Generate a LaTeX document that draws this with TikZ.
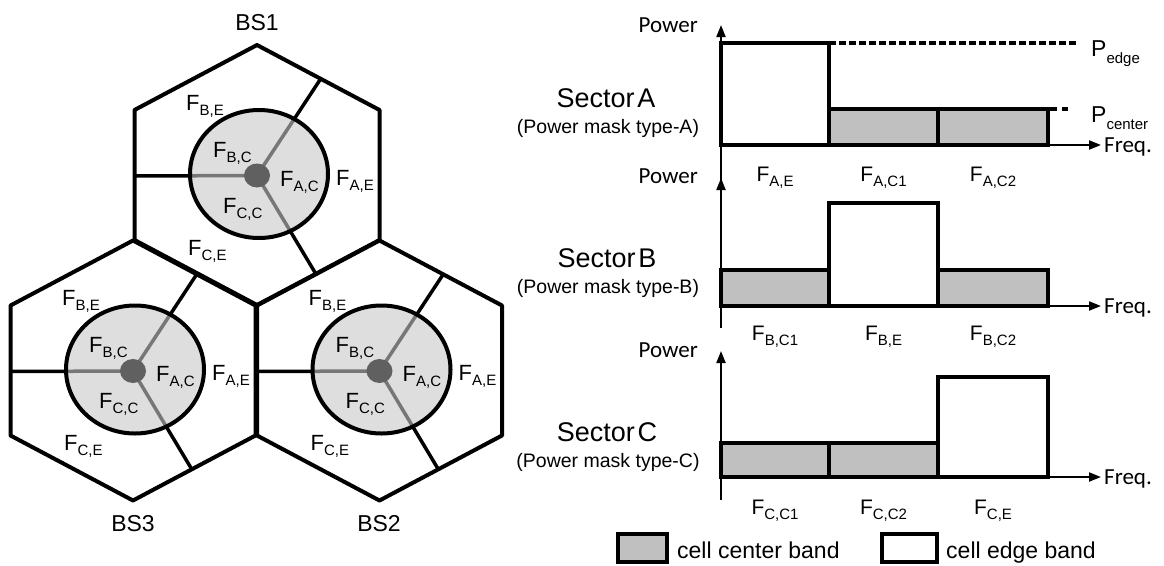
\documentclass[tikz,border=0pt]{standalone}
\usepackage{fontspec}
\setmainfont{Liberation Sans}
\newfontfamily\calfont{Carlito}
\usetikzlibrary{arrows.meta}
\definecolor{cellfill}{HTML}{DEDEDE}
\definecolor{dotgray}{HTML}{606060}
\definecolor{secgray}{HTML}{777777}
\definecolor{bandgray}{HTML}{C0C0C0}
\newcommand\lsub[1]{\raisebox{-5pt}{\fontsize{15}{15}\selectfont #1}}
\newcommand\psub[1]{\raisebox{-7pt}{\fontsize{15}{15}\selectfont #1}}
\begin{document}
\begin{tikzpicture}[x=1pt, y=-1pt,
  hex/.style={line width=4pt, line join=round},
  secline/.style={line width=3.5pt},
  grayline/.style={line width=3.5pt, draw=secgray},
  cellcircle/.style={line width=4pt},
  flab/.style={font=\fontsize{22}{22}\selectfont, inner sep=0pt, anchor=base west},
  bslab/.style={font=\fontsize{23}{23}\selectfont, inner sep=0pt},
  band/.style={draw, line width=4.5pt, line join=miter},
  cband/.style={band, fill=bandgray},
  eband/.style={band, fill=white},
  axis/.style={line width=2pt, -{Triangle[length=12pt,width=9pt]}},
  powlab/.style={font=\calfont\fontsize{23}{23}\selectfont, inner sep=0pt},
  seclab/.style={font=\fontsize{27}{27}\selectfont, inner sep=0pt},
  subt/.style={font=\fontsize{19.5}{19.5}\selectfont, inner sep=0pt},
  rlab/.style={font=\fontsize{21}{21}\selectfont, inner sep=0pt, anchor=base},
  plab/.style={font=\fontsize{23}{23}\selectfont, inner sep=0pt, anchor=base west},
  leglab/.style={font=\fontsize{23}{23}\selectfont, inner sep=0pt, anchor=base west},
  edgedash/.style={line width=3.5pt, dash pattern=on 7pt off 3pt},
  centerdash/.style={line width=3.5pt, dash pattern=on 7pt off 5pt}]
\useasboundingbox (0,0) rectangle (1164,565);

% ---------------- cells ----------------
\foreach \n/\cx/\cy in {1/257/175, 3/133/370.5, 2/379.5/370.5}{
  \coordinate (d\n) at (\cx,\cy+0.5);
  \coordinate (l\n) at (\cx-122.5,\cy+1);
  \coordinate (u\n) at (\cx+63.7,\cy-96.2);
  \coordinate (w\n) at (\cx+58.8,\cy+98.8);
  \coordinate (e\n) at (\cx+2,\cy-1);
  \draw[secline] (d\n) -- (l\n) (d\n) -- (u\n) (d\n) -- (w\n);
  \fill[cellfill] (e\n) ellipse [x radius=69pt, y radius=64pt];
  \begin{scope}
    \clip (e\n) ellipse [x radius=69pt, y radius=64pt];
    \draw[grayline] (d\n) -- (l\n) (d\n) -- (u\n) (d\n) -- (w\n);
  \end{scope}
  \draw[cellcircle] (e\n) ellipse [x radius=69pt, y radius=64pt];
  \fill[dotgray] (d\n) ellipse [x radius=13pt, y radius=12pt];
  \node[flab] (fbe\n) at (\cx-71,\cy-65) {F\lsub{B,E}};
  \node[flab] (fbc\n) at (\cx-44,\cy-18) {F\lsub{B,C}};
  \node[flab] (fac\n) at (\cx+23,\cy+11) {F\lsub{A,C}};
  \node[flab] (fae\n) at (\cx+79,\cy+10) {F\lsub{A,E}};
  \node[flab] (fcc\n) at (\cx-34,\cy+38) {F\lsub{C,C}};
  \node[flab] (fce\n) at (\cx-69,\cy+80) {F\lsub{C,E}};
}
\foreach \cx/\cy in {257/175, 133/370.5, 379.5/370.5}{
  \draw[hex] (\cx,\cy-130) -- (\cx+122.5,\cy-65) -- (\cx+122.5,\cy+65)
    -- (\cx,\cy+130) -- (\cx-122.5,\cy+65) -- (\cx-122.5,\cy-65) -- cycle;
}
\node[bslab] (bs1) at (257,23) {BS1};
\node[bslab] (bs3) at (133,524) {BS3};
\node[bslab] (bs2) at (379,524) {BS2};

% ---------------- Sector A ----------------
\draw[axis] (721,185) -- (721,25);
\draw[axis] (721,145) -- (1101,145);
\draw[edgedash] (829,43) -- (1076,43);
\draw[centerdash] (1050,109) -- (1068,109);
\draw[eband] (721,43) rectangle (829,145);
\draw[cband] (829,109) rectangle (938,145);
\draw[cband] (938,109) rectangle (1048,145);
\node[powlab, anchor=base east] (powA) at (698,32) {Power};
\node[powlab, anchor=base west] (frqA) at (1104,152) {Freq.};
\node[plab] (pedge) at (1091,56) {P\psub{edge}};
\node[plab] (pcenter) at (1091,122) {P\psub{center}};
\node[seclab] (secA) at (606,98) {Sector\hspace{0.1em}A};
\node[subt] (subA) at (608,128) {(Power mask type-A)};
\node[rlab] (lae) at (775,181) {F\lsub{A,E}};
\node[rlab] (lac1) at (883.5,181) {F\lsub{A,C1}};
\node[rlab] (lac2) at (993,181) {F\lsub{A,C2}};

% ---------------- Sector B ----------------
\draw[axis] (721,328) -- (721,178);
\draw[axis] (721,306) -- (1101,306);
\draw[cband] (721,270) rectangle (829,306);
\draw[eband] (829,203) rectangle (938,306);
\draw[cband] (938,270) rectangle (1048,306);
\node[powlab, anchor=base east] (powB) at (698,183) {Power};
\node[powlab, anchor=base west] (frqB) at (1104,313) {Freq.};
\node[seclab] (secB) at (607,258) {Sector\hspace{0.1em}B};
\node[subt] (subB) at (608,288) {(Power mask type-B)};
\node[rlab] (lbc1) at (775,340) {F\lsub{B,C1}};
\node[rlab] (lbe) at (883.5,340) {F\lsub{B,E}};
\node[rlab] (lbc2) at (993,340) {F\lsub{B,C2}};

% ---------------- Sector C ----------------
\draw[axis] (721,500) -- (721,351);
\draw[axis] (721,477) -- (1101,477);
\draw[cband] (721,443) rectangle (829,477);
\draw[cband] (829,443) rectangle (938,477);
\draw[eband] (938,377) rectangle (1048,477);
\node[powlab, anchor=base east] (powC) at (698,357) {Power};
\node[powlab, anchor=base west] (frqC) at (1104,484) {Freq.};
\node[seclab] (secC) at (607,432) {Sector\hspace{0.1em}C};
\node[subt] (subC) at (608,462) {(Power mask type-C)};
\node[rlab] (lcc1) at (775,514) {F\lsub{C,C1}};
\node[rlab] (lcc2) at (883.5,514) {F\lsub{C,C2}};
\node[rlab] (lce) at (993,514) {F\lsub{C,E}};

% ---------------- legend ----------------
\draw[cband] (618,534) rectangle (667,562);
\node[leglab] (legc) at (677,558) {cell center band};
\draw[eband] (882,534) rectangle (937,562);
\node[leglab] (lege) at (946,558) {cell edge band};
\end{tikzpicture}
\end{document}
